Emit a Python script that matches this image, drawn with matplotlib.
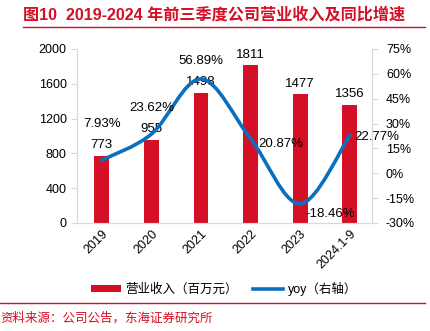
import matplotlib.pyplot as plt
from matplotlib.path import Path
from matplotlib.patches import PathPatch, Patch
from matplotlib.lines import Line2D

plt.rcParams['font.family'] = ['Liberation Sans', 'Noto Sans CJK SC', 'DejaVu Sans']

# revenue (RMB mn) and yoy growth (%)
years = ["2019", "2020", "2021", "2022", "2023", "2024.1-9"]
revenue = [773, 955, 1498, 1811, 1477, 1356]
yoy = [7.93, 23.62, 56.89, 20.87, -18.46, 22.77]

RED = "#D50F25"
BLUE = "#0B6FC0"
GRAY = "#D9D9D9"

fig = plt.figure(figsize=(4.31, 3.31), dpi=100)
ax = fig.add_axes([0.1787, 0.3263, 0.6845, 0.5257])
ax2 = ax.twinx()

x = list(range(len(years)))
ax.bar(x, revenue, width=0.3, color=RED, zorder=2)
ax.set_ylim(0, 2000)
ax.set_yticks([0, 400, 800, 1200, 1600, 2000])
ax.set_xlim(-0.5, 5.45)
ax.set_xticks(x)
ax.set_xticklabels(years, rotation=45, ha='right', rotation_mode='anchor', fontsize=9)
for xi, v in zip(x, revenue):
    ax.text(xi, v + 55, str(v), ha='center', va='bottom', fontsize=9.5)

ax2.set_ylim(-30, 75)
ax2.set_yticks([-30, -15, 0, 15, 30, 45, 60, 75])
ax2.set_yticklabels([f"{t}%" for t in [-30, -15, 0, 15, 30, 45, 60, 75]])

for a in (ax, ax2):
    for s in a.spines.values():
        s.set_color(GRAY)
    a.spines['top'].set_visible(False)
    a.tick_params(axis='y', colors=GRAY, labelcolor='black', labelsize=9, length=4)
    a.tick_params(axis='x', length=0, labelsize=9)
ax2.tick_params(axis='y', pad=6)

# smoothed yoy line (Catmull-Rom segments as cubic Beziers)
pts = list(zip(x, yoy))
verts = [pts[0]]
codes = [Path.MOVETO]
n = len(pts)
for i in range(n - 1):
    p0 = pts[max(i - 1, 0)]
    p1 = pts[i]
    p2 = pts[i + 1]
    p3 = pts[min(i + 2, n - 1)]
    c1 = (p1[0] + (p2[0] - p0[0]) / 6, p1[1] + (p2[1] - p0[1]) / 6)
    c2 = (p2[0] - (p3[0] - p1[0]) / 6, p2[1] - (p3[1] - p1[1]) / 6)
    verts += [c1, c2, p2]
    codes += [Path.CURVE4] * 3
ax2.add_patch(PathPatch(Path(verts, codes), fill=False, edgecolor=BLUE,
                        lw=2.6, capstyle='round', zorder=3))

# yoy labels: first three sit above the revenue label, the rest beside the line
for xi, v in zip(x, yoy):
    if xi < 3:
        y = revenue[xi] * 105 / 2000 - 30 + 19
        ax2.text(xi, y, f"{v:.2f}%", ha='center', va='center', fontsize=9.5, zorder=4)
    else:
        dx, dy = [(0.15, -3), (0.1, -6), (0.1, -1)][xi - 3]
        ax2.text(xi + dx, v + dy, f"{v:.2f}%", ha='left', va='center', fontsize=9.5, zorder=4)

# title and source
fig.text(0.053, 0.957, "图10  2019-2024 年前三季度公司营业收入及同比增速",
         color=RED, fontsize=11.6, fontweight='bold', va='center')
fig.add_artist(Line2D([0.053, 0.985], [0.917, 0.917], color=RED, lw=1))
fig.add_artist(Line2D([0.0, 0.985], [0.085, 0.085], color=RED, lw=1))
fig.text(0.0, 0.038, "资料来源：公司公告，东海证券研究所", color=RED, fontsize=9, va='center')

handles = [Patch(facecolor=RED), Line2D([], [], color=BLUE, lw=2.6)]
fig.legend(handles, ["营业收入（百万元）", "yoy（右轴）"], loc='center',
           bbox_to_anchor=(0.52, 0.128), ncol=2, frameon=False, fontsize=9,
           handlelength=2.4, handleheight=0.5, columnspacing=1.2, handletextpad=0.4)

fig.savefig("out.png", dpi=100)
